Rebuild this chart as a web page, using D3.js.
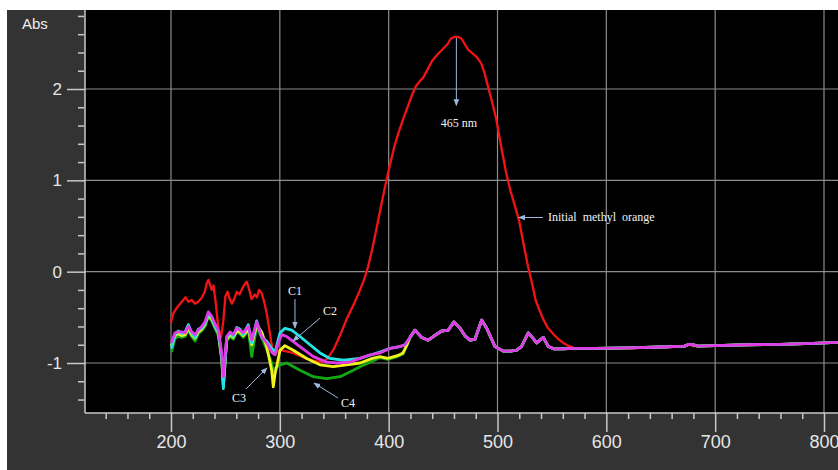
<!DOCTYPE html>
<html><head><meta charset="utf-8">
<script src="https://cdn.jsdelivr.net/npm/d3@7"></script>
<style>html,body{margin:0;padding:0;background:#fff;overflow:hidden}</style>
</head><body>
<svg id="c" width="838" height="470"></svg>
<script>
// ---------- DATA ----------
const xMajorTicks = [200, 300, 400, 500, 600, 700, 800];
const yMajorTicks = [-1, 0, 1, 2];
const yAxisTitle = "Abs";

// Initial methyl orange (red)
const redWl = [200,202,204,207,210,212,213.5,216,219,222,225,228,231,233,234.5,236,237.5,239,241,243.5,246,248,250,252,254,256,258,260.5,263,266,269.5,271.5,274,277,279,281,283.5,286,288,290.5,293,295.5,298,301,305,312,318,324,330,337,341,345,349,353,357,361,365,369,373,377,381,385,389,393,397,401,405,409,413,417,421,425,429,432,436,440,445,450,454,457,460,464,467,470,473,477,481,485,488,491,495,499,504,508,512,516,520,524,528,532,535,538.5,542,546,551,556,560.5,565,570,590,620,650,672,676,680,684,700,730,760,790,812];
const redAbs = [-0.55,-0.46,-0.42,-0.37,-0.33,-0.30,-0.28,-0.33,-0.31,-0.35,-0.33,-0.29,-0.22,-0.12,-0.09,-0.15,-0.20,-0.15,-0.33,-0.62,-0.72,-0.55,-0.27,-0.22,-0.30,-0.35,-0.30,-0.22,-0.25,-0.17,-0.11,-0.18,-0.30,-0.25,-0.28,-0.20,-0.24,-0.35,-0.46,-0.65,-0.84,-0.91,-0.87,-0.86,-0.87,-0.89,-0.92,-0.95,-0.97,-0.99,-0.98,-0.93,-0.86,-0.76,-0.65,-0.53,-0.43,-0.33,-0.22,-0.10,0.05,0.25,0.48,0.72,0.95,1.16,1.36,1.52,1.66,1.79,1.92,2.03,2.09,2.13,2.22,2.31,2.38,2.44,2.49,2.55,2.57,2.57,2.55,2.49,2.43,2.39,2.35,2.28,2.18,2.04,1.86,1.66,1.33,1.08,0.88,0.72,0.55,0.30,0.06,-0.14,-0.31,-0.42,-0.52,-0.61,-0.68,-0.74,-0.78,-0.81,-0.835,-0.845,-0.84,-0.83,-0.82,-0.80,-0.815,-0.815,-0.81,-0.80,-0.795,-0.785,-0.775];

// shared wavelength grid of the noisy UV region for C1..C4
const noiseWl = [200.6,203.7,206.7,209.8,212.9,215.9,219.0,222.1,225.1,228.2,231.2,234.3,237.4,240.4,243.5,246.6,248.1,251.2,254.2,257.2,260.4,263.4,266.4,271.0,274.2,278.7,283.3,287.9,292.5,294.0,295.6,298.6];

// C1 (cyan)
const c1NoiseAbs = [-0.83,-0.69,-0.65,-0.68,-0.66,-0.58,-0.67,-0.72,-0.63,-0.62,-0.57,-0.46,-0.50,-0.60,-0.66,-0.93,-1.28,-0.72,-0.67,-0.71,-0.61,-0.63,-0.69,-0.58,-0.78,-0.54,-0.72,-0.76,-0.84,-0.86,-0.88,-0.74];
const c1MidWl  = [300.2,304.7,310.9,318.5,327.7,336.9,346.1,358.3,373.7,392.0,401.2,410.4,415.0];
const c1MidAbs = [-0.67,-0.62,-0.64,-0.71,-0.80,-0.89,-0.95,-0.97,-0.95,-0.88,-0.84,-0.82,-0.80];
// C2 (magenta)
const c2NoiseAbs = [-0.77,-0.67,-0.66,-0.66,-0.67,-0.60,-0.66,-0.69,-0.64,-0.60,-0.55,-0.44,-0.49,-0.57,-0.64,-0.89,-1.15,-0.71,-0.66,-0.69,-0.62,-0.64,-0.67,-0.60,-0.75,-0.55,-0.71,-0.78,-0.88,-0.90,-0.91,-0.78];
const c2MidWl  = [301.7,306.3,318.5,330.8,343.1,352.3,364.5,373.7,382.9,392.0,401.2,410.0,415.0];
const c2MidAbs = [-0.69,-0.71,-0.82,-0.93,-0.99,-1.00,-0.99,-0.95,-0.91,-0.89,-0.84,-0.82,-0.80];
// C3 (yellow)
const c3NoiseAbs = [-0.80,-0.70,-0.68,-0.70,-0.69,-0.62,-0.69,-0.73,-0.66,-0.63,-0.58,-0.47,-0.52,-0.60,-0.67,-0.95,-1.25,-0.74,-0.69,-0.72,-0.65,-0.66,-0.70,-0.63,-0.80,-0.58,-0.66,-0.82,-1.08,-1.26,-1.12,-0.95];
const c3MidWl  = [300.2,304.7,312.4,324.7,336.9,349.1,361.4,373.7,385.0,392.0,399.3,408.0,413.2,416.9];
const c3MidAbs = [-0.86,-0.81,-0.86,-0.95,-1.02,-1.04,-1.02,-1.00,-0.95,-0.93,-0.95,-0.92,-0.89,-0.80];
// C4 (green)
const c4NoiseAbs = [-0.87,-0.73,-0.71,-0.72,-0.71,-0.64,-0.71,-0.76,-0.68,-0.65,-0.60,-0.49,-0.54,-0.62,-0.70,-0.97,-1.22,-0.76,-0.71,-0.74,-0.66,-0.68,-0.72,-0.64,-0.93,-0.60,-0.72,-0.85,-1.00,-1.10,-1.06,-1.03];
const c4MidWl  = [300.2,306.3,318.5,330.8,343.1,355.3,367.5,373.7,385.0,392.0,399.3,408.0,413.2,416.9];
const c4MidAbs = [-1.02,-1.00,-1.08,-1.15,-1.17,-1.15,-1.08,-1.04,-0.98,-0.94,-0.96,-0.93,-0.90,-0.80];

// shared visible-region trace of C1..C4 (they coincide)
const tailWl  = [419.6,424.2,430.4,436.4,441.0,448.7,454.8,460.0,465.6,470.0,474.7,479.3,485.5,490.1,497.7,505.3,512,517.7,522,528.3,532,536.0,542.1,546.7,552,560,570,590,620,650,672,676,680,684,700,730,760,790,812];
const tailAbs = [-0.72,-0.64,-0.72,-0.75,-0.71,-0.65,-0.64,-0.55,-0.62,-0.70,-0.75,-0.74,-0.53,-0.62,-0.82,-0.87,-0.87,-0.86,-0.82,-0.67,-0.72,-0.78,-0.72,-0.82,-0.845,-0.845,-0.84,-0.84,-0.835,-0.825,-0.815,-0.795,-0.80,-0.815,-0.81,-0.80,-0.795,-0.785,-0.775];

const seriesNames  = ["Initial methyl orange", "C4", "C3", "C1", "C2"];
const seriesColors = ["#f21414", "#13a813", "#f2f21c", "#22e6e6", "#e03ce6"];

// annotations (data units)
const annotTexts = ["465 nm", "Initial methyl orange", "C1", "C2", "C3", "C4"];
const annotTextPos = [[464.6, 1.585], [546.4, 0.555], [313.9, -0.256], [346.1, -0.474], [262.5, -1.427], [362.6, -1.481]];
const annotArrows = [[[462.2, 2.56], [462.2, 1.82]], [[541.8, 0.593], [519.5, 0.593]], [[313.9, -0.30], [313.9, -0.617]], [[336.9, -0.508], [312.1, -0.76]], [[268.9, -1.284], [288.2, -1.054]], [[353.4, -1.383], [331.4, -1.219]]];

// ---------- BUILD ----------
function zip(w, a) { return w.map((d, i) => [d, a[i]]); }
const series = [
  zip(redWl, redAbs),
  zip(noiseWl, c4NoiseAbs).concat(zip(c4MidWl, c4MidAbs), zip(tailWl, tailAbs)),
  zip(noiseWl, c3NoiseAbs).concat(zip(c3MidWl, c3MidAbs), zip(tailWl, tailAbs)),
  zip(noiseWl, c1NoiseAbs).concat(zip(c1MidWl, c1MidAbs), zip(tailWl, tailAbs)),
  zip(noiseWl, c2NoiseAbs).concat(zip(c2MidWl, c2MidAbs), zip(tailWl, tailAbs))
];

const svg = d3.select("#c");
const W = 838, H = 470;
const panel = {x: 7, y: 10};
const plot = {l: 85, t: 10, r: 838, b: 413};

const x = d3.scaleLinear().domain([200, 800]).range([171, 824]);
const y = d3.scaleLinear().domain([-1, 2]).range([363, 89]);

svg.append("rect").attr("x", 0).attr("y", 0).attr("width", W).attr("height", H).attr("fill", "#ffffff");
svg.append("rect").attr("x", panel.x).attr("y", panel.y).attr("width", W - panel.x).attr("height", H - panel.y).attr("fill", "#333333");
svg.append("rect").attr("x", plot.l).attr("y", plot.t).attr("width", plot.r - plot.l).attr("height", plot.b - plot.t).attr("fill", "#000000");

const defs = svg.append("defs");
defs.append("clipPath").attr("id", "clip").append("rect")
  .attr("x", plot.l + 1).attr("y", plot.t).attr("width", plot.r - plot.l).attr("height", plot.b - plot.t - 1);
defs.append("marker").attr("id", "ah").attr("viewBox", "0 0 10 10").attr("refX", 9).attr("refY", 5)
  .attr("markerWidth", 7).attr("markerHeight", 7).attr("orient", "auto")
  .append("path").attr("d", "M0,1 L10,5 L0,9 Z").attr("fill", "#9cb8dc");

// gridlines
const grid = svg.append("g");
grid.selectAll("line.vx").data(xMajorTicks).join("line")
  .attr("x1", d => x(d)).attr("x2", d => x(d)).attr("y1", plot.t).attr("y2", plot.b)
  .attr("stroke", "#8c8c8c").attr("stroke-width", 1.2);
grid.selectAll("line.hy").data(yMajorTicks).join("line")
  .attr("x1", plot.l).attr("x2", plot.r).attr("y1", d => y(d)).attr("y2", d => y(d))
  .attr("stroke", "#8c8c8c").attr("stroke-width", 1.2);

// axes
const xMinor = d3.range(140, 801, 20).filter(v => v % 100 !== 0);
const xAxisMinor = d3.axisBottom(x).tickValues(xMinor).tickSize(6).tickFormat("");
const xAxisMajor = d3.axisBottom(x).tickValues(xMajorTicks).tickSize(19).tickPadding(3).tickFormat(d3.format("d"));
const gx1 = svg.append("g").attr("transform", `translate(0,${plot.b})`).call(xAxisMinor);
const gx2 = svg.append("g").attr("transform", `translate(0,${plot.b})`).call(xAxisMajor);
[gx1, gx2].forEach(g => { g.select(".domain").remove(); g.selectAll("line").attr("stroke", "#c8c8c8").attr("stroke-width", 1.5); });
gx2.selectAll("text").attr("fill", "#e6e6e6").attr("font-family", "'Liberation Sans Narrow', 'Liberation Sans', sans-serif").attr("font-size", 18);

const yMinor = d3.range(-14, 29, 2).map(v => v / 10).filter(v => Math.abs(v - Math.round(v)) > 1e-6);
const yAxisMinor = d3.axisLeft(y).tickValues(yMinor).tickSize(6).tickFormat("");
const yAxisMajor = d3.axisLeft(y).tickValues(yMajorTicks).tickSize(18).tickPadding(5).tickFormat(d3.format("d"));
const gy1 = svg.append("g").attr("transform", `translate(${plot.l - 1},0)`).call(yAxisMinor);
const gy2 = svg.append("g").attr("transform", `translate(${plot.l},0)`).call(yAxisMajor);
[gy1, gy2].forEach(g => { g.select(".domain").remove(); g.selectAll("line").attr("stroke", "#c8c8c8").attr("stroke-width", 1.5); });
gy2.selectAll("text").attr("fill", "#e6e6e6").attr("font-family", "'Liberation Sans', sans-serif").attr("font-size", 17).text(d => d < 0 ? "-" + Math.abs(d) : d);

// axis lines
svg.append("line").attr("x1", plot.l).attr("x2", plot.l).attr("y1", plot.t).attr("y2", plot.b).attr("stroke", "#c8c8c8").attr("stroke-width", 1.5);
svg.append("line").attr("x1", plot.l).attr("x2", plot.r).attr("y1", plot.b).attr("y2", plot.b).attr("stroke", "#c8c8c8").attr("stroke-width", 1.5);

svg.append("text").attr("x", 22).attr("y", 29).text(yAxisTitle)
  .attr("fill", "#eeeeee").attr("font-family", "'Liberation Sans', sans-serif").attr("font-size", 15);

// curves
const line = d3.line().x(d => x(d[0])).y(d => y(d[1]));
const lines = svg.append("g").attr("clip-path", "url(#clip)");
series.forEach((s, i) => {
  lines.append("path").datum(s).attr("d", line).attr("fill", "none")
    .attr("stroke", seriesColors[i]).attr("stroke-width", i === 0 ? 2.3 : 2.8)
    .attr("stroke-linejoin", "round").attr("stroke-linecap", "round");
});

// annotations
const ann = svg.append("g");
annotArrows.forEach(a => {
  ann.append("line").attr("x1", x(a[0][0])).attr("y1", y(a[0][1])).attr("x2", x(a[1][0])).attr("y2", y(a[1][1]))
    .attr("stroke", "#9cb8dc").attr("stroke-width", 1).attr("marker-end", "url(#ah)");
});
annotTexts.forEach((t, i) => {
  ann.append("text").attr("x", x(annotTextPos[i][0])).attr("y", y(annotTextPos[i][1]))
    .attr("text-anchor", i === 1 ? "start" : "middle")
    .attr("fill", "#f2f2f2").attr("font-family", "'Liberation Serif', 'Times New Roman', serif")
    .attr("font-size", 12).attr("word-spacing", i === 1 ? 3 : 0).text(t);
});
</script>
</body></html>
